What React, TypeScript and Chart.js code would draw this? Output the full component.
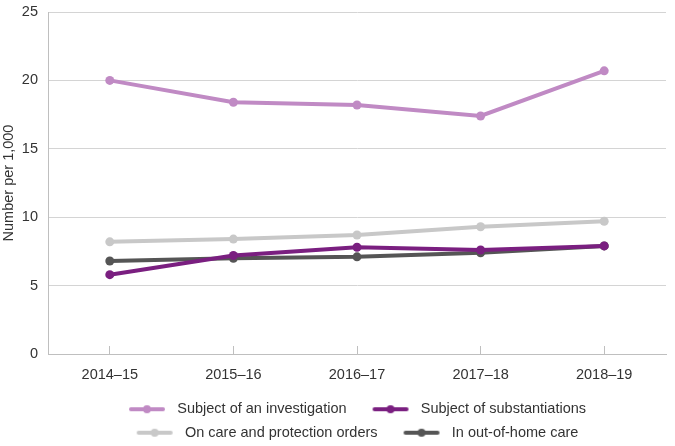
import React, { useEffect, useRef } from 'react';
import { Chart, registerables } from 'chart.js';

Chart.register(...registerables);

const categories = ['2014–15', '2015–16', '2016–17', '2017–18', '2018–19'];
const investigation = [20.0, 18.4, 18.2, 17.4, 20.7];
const substantiations = [5.8, 7.2, 7.8, 7.6, 7.9];
const careOrders = [8.2, 8.4, 8.7, 9.3, 9.7];
const outOfHome = [6.8, 7.0, 7.1, 7.4, 7.9];

const seriesNames = [
  'Subject of an investigation',
  'Subject of substantiations',
  'On care and protection orders',
  'In out-of-home care',
];
const seriesColors = ['#c08ac4', '#7a1f80', '#c8c8c8', '#555555'];

const FONT = '"Liberation Sans", Arial, sans-serif';
const FS = 14.5;

function legendIcon(color: string): HTMLCanvasElement {
  const c = document.createElement('canvas');
  c.width = 58;
  c.height = 12;
  const ctx = c.getContext('2d')!;
  ctx.strokeStyle = color;
  ctx.lineWidth = 4;
  ctx.lineCap = 'round';
  ctx.beginPath();
  ctx.moveTo(19, 6);
  ctx.lineTo(51, 6);
  ctx.stroke();
  ctx.fillStyle = color;
  ctx.beginPath();
  ctx.arc(35, 6, 4, 0, Math.PI * 2);
  ctx.fill();
  return c;
}

const shiftLegend = {
  id: 'shiftLegend',
  afterLayout(chart: any) {
    if (chart.legend) {
      chart.legend.left -= 8;
      chart.legend.right -= 8;
    }
  },
};

export default function App() {
  const ref = useRef<HTMLCanvasElement>(null);
  useEffect(() => {
    if (!ref.current) return;
    const values = [investigation, substantiations, careOrders, outOfHome];
    const icons = seriesColors.map(legendIcon);
    const chart = new Chart(ref.current, {
      type: 'line',
      data: {
        labels: categories,
        datasets: values.map((v, i) => ({
          label: seriesNames[i],
          data: v,
          borderColor: seriesColors[i],
          backgroundColor: seriesColors[i],
          borderWidth: 4,
          pointRadius: 4.5,
          pointHoverRadius: 4.5,
          pointBorderWidth: 0,
          tension: 0,
          fill: false,
        })),
      },
      plugins: [shiftLegend],
      options: {
        animation: false,
        responsive: false,
        maintainAspectRatio: false,
        layout: { padding: { top: 12, right: 9, left: 0, bottom: -4 } },
        plugins: {
          tooltip: { enabled: false },
          legend: {
            position: 'bottom',
            fullSize: false,
            labels: {
              usePointStyle: true,
              pointStyleWidth: 58,
              boxHeight: 12,
              padding: 9,
              color: '#333333',
              font: { family: FONT, size: FS },
              generateLabels: () =>
                seriesNames.map((name, i) => ({
                  text: name,
                  fillStyle: seriesColors[i],
                  strokeStyle: seriesColors[i],
                  lineWidth: 0,
                  pointStyle: icons[i],
                  hidden: false,
                  datasetIndex: i,
                  fontColor: '#333333',
                })),
            },
          },
        },
        scales: {
          x: {
            offset: true,
            afterFit: (s: any) => {
              s.height = 39;
            },
            grid: {
              offset: false,
              drawOnChartArea: false,
              drawTicks: true,
              tickLength: -8,
              color: '#bfbfbf',
            },
            border: { color: '#bfbfbf', width: 1 },
            ticks: { color: '#333333', font: { family: FONT, size: FS }, padding: 20 },
          },
          y: {
            min: 0,
            max: 25,
            afterFit: (s: any) => {
              s.width = 48;
              s.paddingTop = 0;
              s.paddingBottom = 0;
            },
            ticks: {
              stepSize: 5,
              color: '#333333',
              font: { family: FONT, size: FS },
              padding: 10,
            },
            grid: { color: '#d4d4d4', drawTicks: false },
            border: { color: '#bfbfbf', width: 1 },
            title: {
              display: true,
              text: 'Number per 1,000',
              color: '#333333',
              font: { family: FONT, size: FS },
              padding: 0,
            },
          },
        },
      },
    });
    return () => chart.destroy();
  }, []);
  return (
    <div style={{ position: 'fixed', left: 0, top: 0, width: 675, height: 446, background: '#fff' }}>
      <canvas ref={ref} width={675} height={446} style={{ width: 675, height: 446 }} />
    </div>
  );
}
